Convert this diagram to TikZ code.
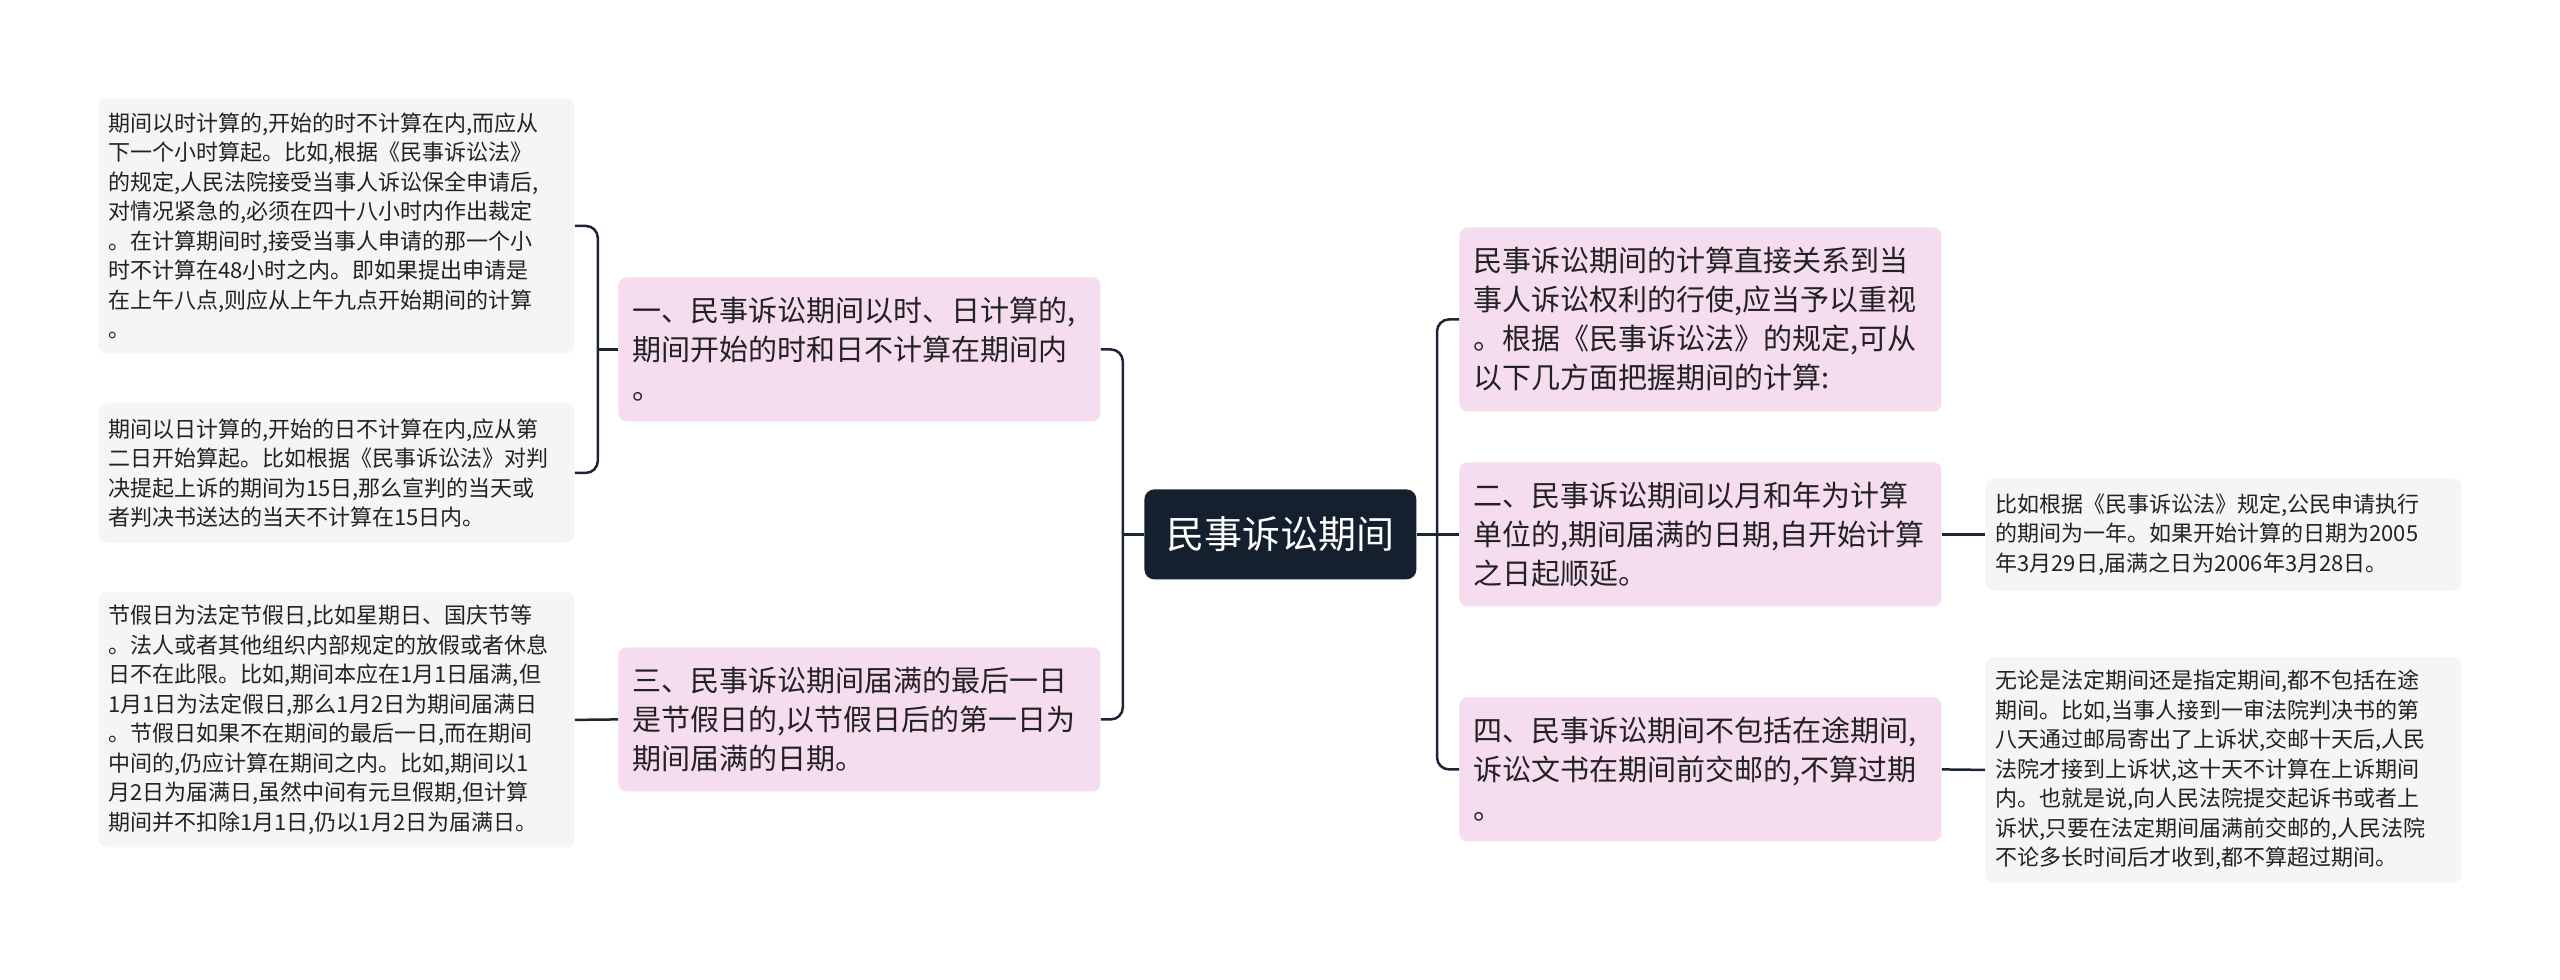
\documentclass[tikz,border=0pt]{standalone}
\usepackage{fontspec}
\setmainfont{Noto Sans CJK SC}
\definecolor{pinkbox}{HTML}{F5DCEF}
\definecolor{greybox}{HTML}{F5F5F5}
\definecolor{navy}{HTML}{15202E}
\definecolor{linec}{HTML}{1B2533}
\definecolor{txt}{HTML}{222222}
\begin{document}
\begin{tikzpicture}[x=0.5pt,y=-0.5pt,
  leaf/.style={fill=greybox, rounded corners=4pt, anchor=north west, inner xsep=5pt, inner ysep=0pt,
    text width=228pt, minimum width=238pt, align=left, font=\fontsize{11pt}{14.75pt}\selectfont, text=txt},
  branch/.style={fill=pinkbox, rounded corners=4pt, anchor=north west, inner xsep=7pt, inner ysep=0pt,
    text width=227pt, minimum width=241pt, minimum height=72pt, align=left,
    font=\fontsize{14.5pt}{19.5pt}\selectfont, text=txt},
  root/.style={fill=navy, rounded corners=5pt, anchor=north west, inner sep=0pt,
    minimum width=136pt, minimum height=45pt, text=white, font=\fontsize{19pt}{23pt}\selectfont},
  conn/.style={draw=linec, line width=1.25pt, rounded corners=6pt}]
\fill[white] (0,0) rectangle (2560,980);
\useasboundingbox (0,0) rectangle (2560,980);

\node[leaf, minimum height=127.5pt] (L1) at (98,98) {期间以时计算的,开始的时不计算在内,而应从\\下一个小时算起。比如,根据《民事诉讼法》\\的规定,人民法院接受当事人诉讼保全申请后,\\对情况紧急的,必须在四十八小时内作出裁定\\。在计算期间时,接受当事人申请的那一个小\\时不计算在48小时之内。即如果提出申请是\\在上午八点,则应从上午九点开始期间的计算\\。};
\node[leaf, minimum height=69.5pt] (L2) at (98,403) {期间以日计算的,开始的日不计算在内,应从第\\二日开始算起。比如根据《民事诉讼法》对判\\决提起上诉的期间为15日,那么宣判的当天或\\者判决书送达的当天不计算在15日内。};
\node[leaf, minimum height=127.5pt] (L3) at (98,592) {节假日为法定节假日,比如星期日、国庆节等\\。法人或者其他组织内部规定的放假或者休息\\日不在此限。比如,期间本应在1月1日届满,但\\1月1日为法定假日,那么1月2日为期间届满日\\。节假日如果不在期间的最后一日,而在期间\\中间的,仍应计算在期间之内。比如,期间以1\\月2日为届满日,虽然中间有元旦假期,但计算\\期间并不扣除1月1日,仍以1月2日为届满日。};

\node[branch] (B1) at (618,277) {一、民事诉讼期间以时、日计算的,\\期间开始的时和日不计算在期间内\\。};
\node[branch] (B3) at (618,647) {三、民事诉讼期间届满的最后一日\\是节假日的,以节假日后的第一日为\\期间届满的日期。};

\node[root] (C) at (1144,489) {民事诉讼期间};

\node[branch, minimum height=92pt] (R0) at (1459,227) {民事诉讼期间的计算直接关系到当\\事人诉讼权利的行使,应当予以重视\\。根据《民事诉讼法》的规定,可从\\以下几方面把握期间的计算:};
\node[branch] (B2) at (1459,462) {二、民事诉讼期间以月和年为计算\\单位的,期间届满的日期,自开始计算\\之日起顺延。};
\node[branch] (B4) at (1459,697) {四、民事诉讼期间不包括在途期间,\\诉讼文书在期间前交邮的,不算过期\\。};

\node[leaf, minimum height=56pt] (R2) at (1985,478) {比如根据《民事诉讼法》规定,公民申请执行\\的期间为一年。如果开始计算的日期为2005\\年3月29日,届满之日为2006年3月28日。};
\node[leaf, minimum height=112.5pt] (R4) at (1985,657) {无论是法定期间还是指定期间,都不包括在途\\期间。比如,当事人接到一审法院判决书的第\\八天通过邮局寄出了上诉状,交邮十天后,人民\\法院才接到上诉状,这十天不计算在上诉期间\\内。也就是说,向人民法院提交起诉书或者上\\诉状,只要在法定期间届满前交邮的,人民法院\\不论多长时间后才收到,都不算超过期间。};

% connectors
\draw[conn] (C.west) -- ++(-22,0);
\draw[conn] (B1.east) -- ++(22,0) |- (B3.east);
\draw[conn] (L1.east) -- ++(23,0) |- (L2.east);
\draw[conn] (B1.west) -- ++(-21,0);
\draw[conn] (B3.west) -- (L3.east);
\draw[conn] (C.east) -- (B2.west);
\draw[conn] (R0.west) -- ++(-22,0) |- (B4.west);
\draw[conn] (B2.east) -- (R2.west);
\draw[conn] (B4.east) -- (R4.west);
\end{tikzpicture}
\end{document}
